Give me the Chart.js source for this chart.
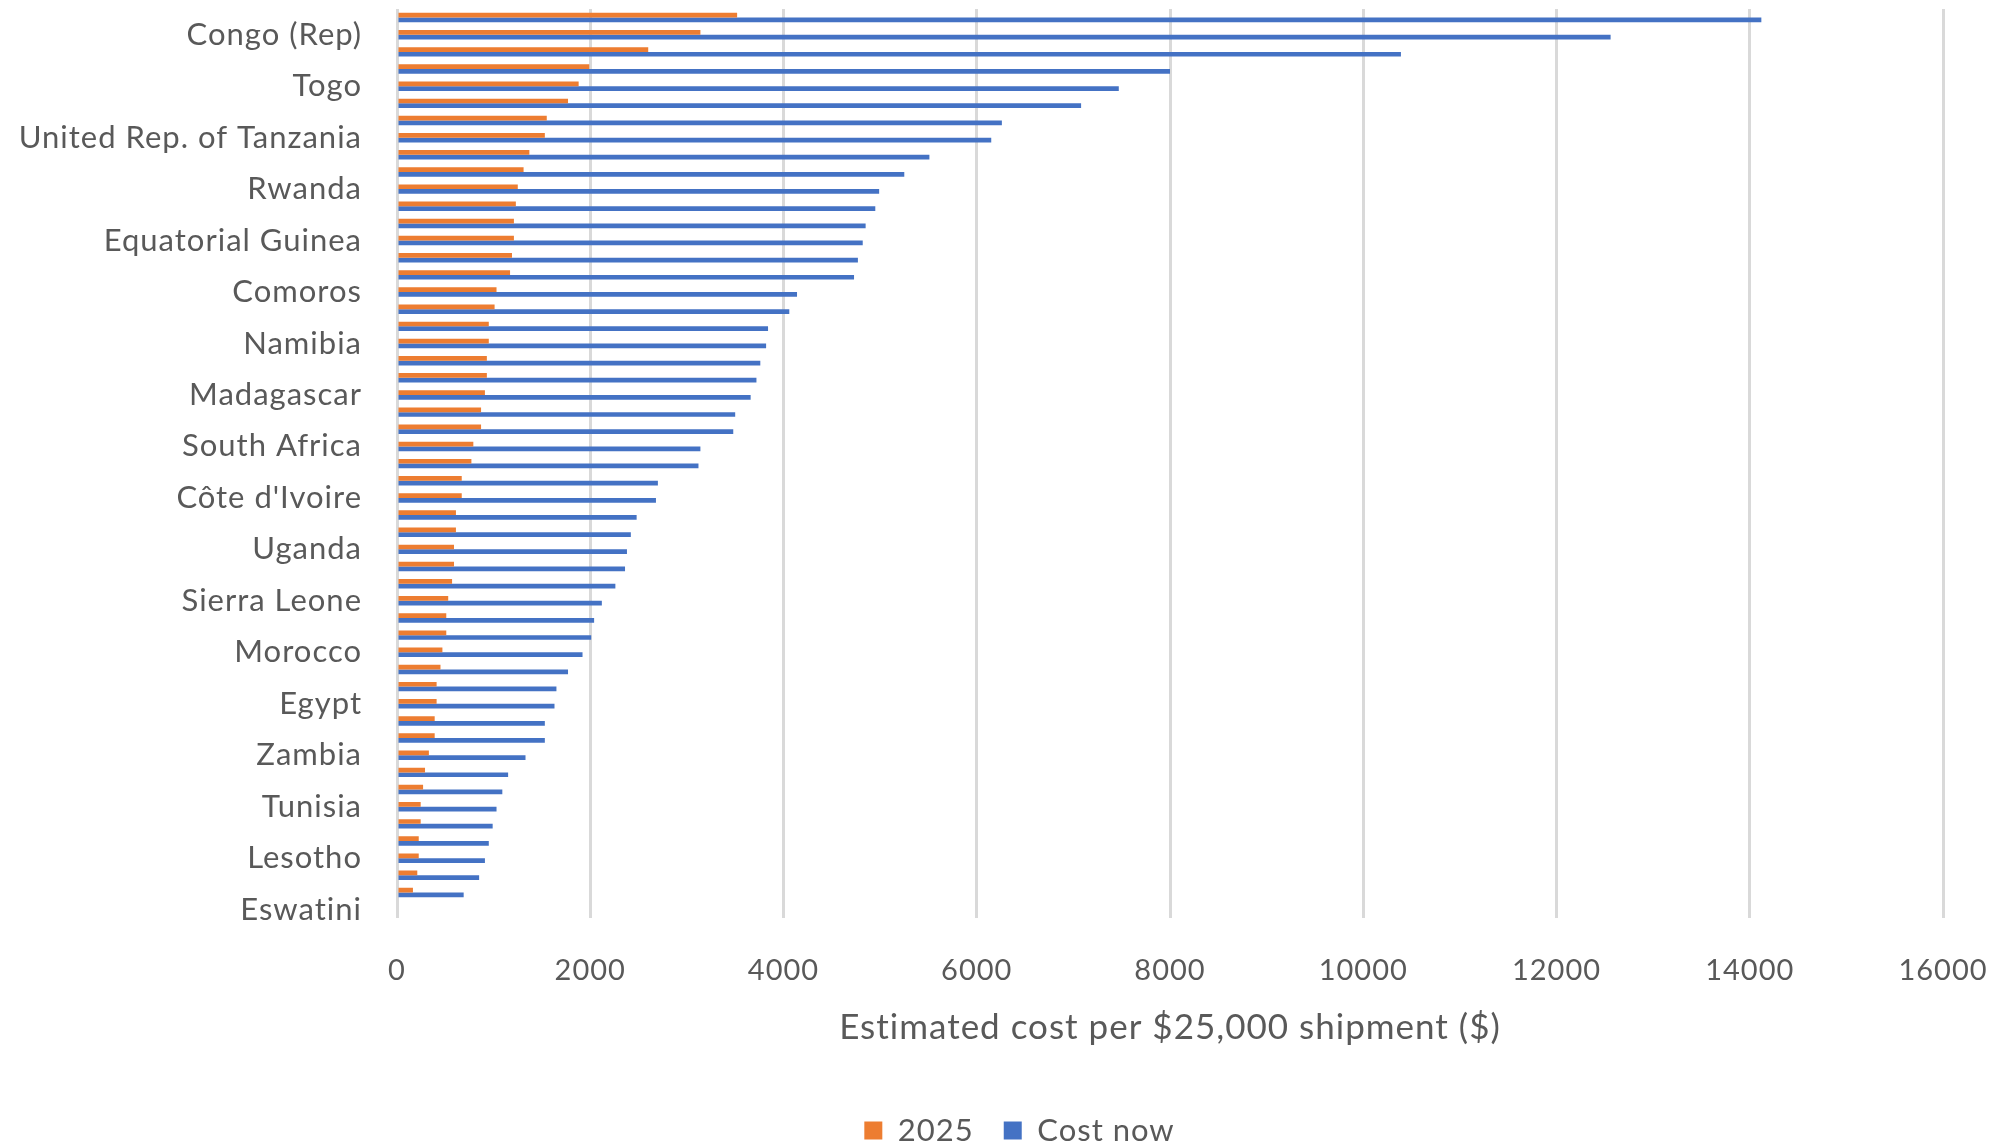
<!DOCTYPE html>
<html>
<head>
<meta charset="utf-8">
<title>Estimated cost per $25,000 shipment</title>
<script src="https://cdn.jsdelivr.net/npm/chart.js@4.4.1/dist/chart.umd.min.js"></script>
<style>
  html, body { margin: 0; padding: 0; background: #ffffff; }
  #wrap { width: 1993px; height: 1148px; }
</style>
</head>
<body>
<div id="wrap"><canvas id="costChart" width="1993" height="1148"></canvas></div>
<script>
// only every third band gets a name on the axis
var countryLabels = ['Congo (Rep)', 'Togo', 'United Rep. of Tanzania', 'Rwanda', 'Equatorial Guinea',
    'Comoros', 'Namibia', 'Madagascar', 'South Africa', "Côte d'Ivoire", 'Uganda', 'Sierra Leone',
    'Morocco', 'Egypt', 'Zambia', 'Tunisia', 'Lesotho', 'Eswatini'];
var bandCount = 53;

var cost2025 = [3520, 3140, 2600, 1990, 1880, 1770, 1550, 1530, 1370, 1310, 1250, 1230, 1210, 1210,
    1190, 1170, 1030, 1010, 950, 950, 930, 930, 910, 870, 870, 790, 770, 670, 670, 610, 610, 590, 590,
    570, 530, 510, 510, 470, 450, 410, 410, 390, 390, 330, 290, 270, 245, 245, 225, 225, 210, 165, null];
var costNow = [14120, 12560, 10390, 8000, 7470, 7080, 6260, 6150, 5510, 5250, 4990, 4950, 4850, 4820,
    4770, 4730, 4140, 4060, 3840, 3820, 3760, 3720, 3660, 3500, 3480, 3140, 3120, 2700, 2680, 2480, 2420,
    2380, 2360, 2260, 2120, 2040, 2010, 1920, 1770, 1650, 1630, 1530, 1530, 1330, 1150, 1090, 1030, 990,
    950, 910, 850, 690, null];

var xMin = 0, xMax = 16000, xStep = 2000;

var bandLabels = [];
for (var i = 0; i < bandCount; i++) {
    bandLabels.push(i % 3 === 1 ? countryLabels[(i - 1) / 3] : '');
}

var textColor = '#595959';

// a little tracking on all text, set again after chart.js resets the canvas
var spacedText = {
    id: 'spacedText',
    afterInit: function(chart) { chart.ctx.letterSpacing = '1px'; },
    beforeUpdate: function(chart) { chart.ctx.letterSpacing = '1px'; },
    beforeDraw: function(chart) { chart.ctx.letterSpacing = '1px'; }
};

// legend sits a bit right of the canvas centre
var legendNudge = {
    id: 'legendNudge',
    afterLayout: function(chart) {
        chart.legend.left += 44;
        chart.legend.right += 44;
    }
};

document.addEventListener('DOMContentLoaded', function() {
    var ctx = document.getElementById('costChart').getContext('2d');
    var costChart = new Chart(ctx, {
        type: 'bar',
        data: {
            labels: bandLabels,
            datasets: [{
                label: '2025',
                data: cost2025,
                backgroundColor: '#ED7D31',
                barPercentage: 1,
                categoryPercentage: 0.55
            }, {
                label: 'Cost now',
                data: costNow,
                backgroundColor: '#4472C4',
                barPercentage: 1,
                categoryPercentage: 0.55
            }]
        },
        plugins: [spacedText, legendNudge],
        options: {
            indexAxis: 'y',
            responsive: false,
            animation: false,
            devicePixelRatio: 1,
            layout: {
                padding: { top: 9, left: 8, right: 50, bottom: -8 }
            },
            scales: {
                x: {
                    min: xMin,
                    max: xMax,
                    ticks: {
                        stepSize: xStep,
                        color: textColor,
                        font: { family: 'Lato', size: 29 },
                        padding: 4,
                        callback: function(v) { return String(v); }
                    },
                    grid: {
                        color: '#D9D9D9',
                        lineWidth: 3,
                        drawTicks: true,
                        tickLength: 31,
                        tickColor: 'rgba(0,0,0,0)'
                    },
                    border: { display: false },
                    title: {
                        display: true,
                        text: 'Estimated cost per $25,000 shipment ($)',
                        color: textColor,
                        font: { family: 'Lato', size: 35 },
                        padding: { top: 15, bottom: 36 }
                    }
                },
                y: {
                    grid: { display: false, drawTicks: false },
                    border: { display: false },
                    ticks: {
                        autoSkip: false,
                        color: textColor,
                        font: { family: 'Lato', size: 31 },
                        padding: 35
                    },
                    afterFit: function(scale) {
                        scale.width = 389;
                        scale.paddingTop = 0;
                        scale.paddingBottom = 0;
                    }
                }
            },
            plugins: {
                legend: {
                    position: 'bottom',
                    labels: {
                        boxWidth: 18,
                        boxHeight: 18,
                        padding: 30,
                        color: textColor,
                        font: { family: 'Lato', size: 31 }
                    }
                },
                tooltip: { enabled: false }
            }
        }
    });
});
</script>
</body>
</html>
